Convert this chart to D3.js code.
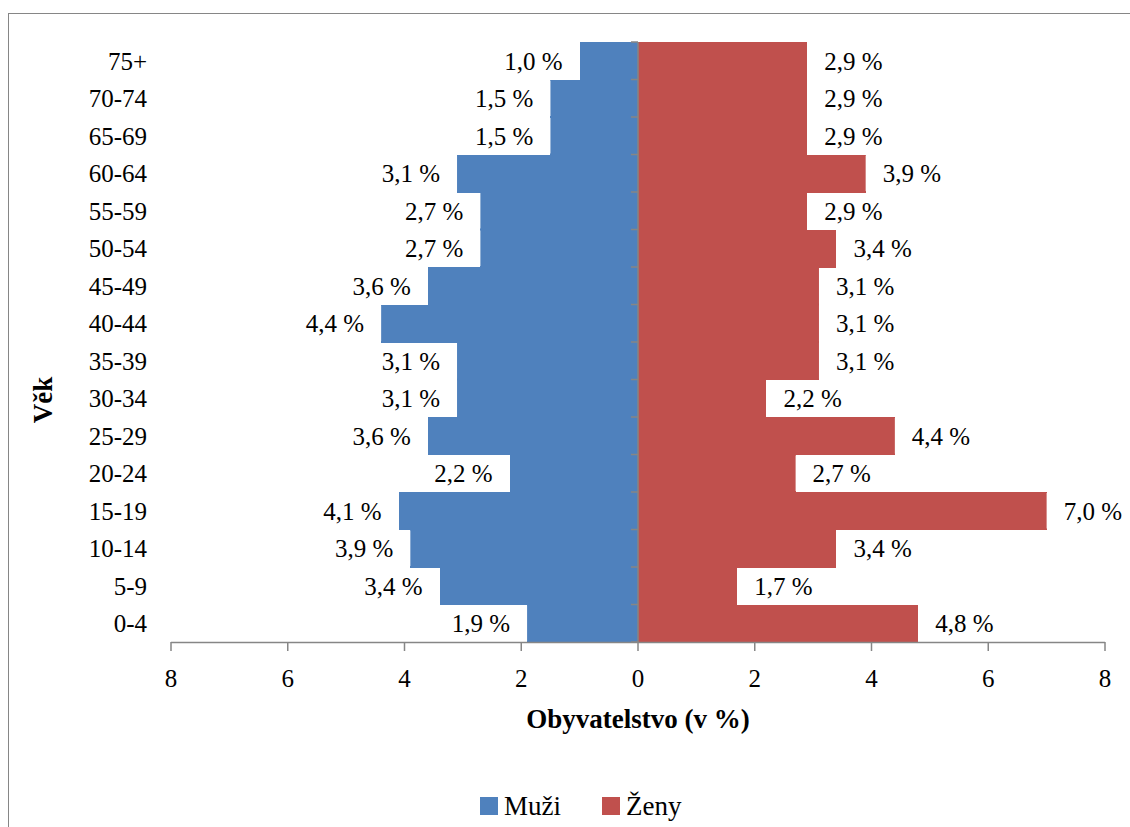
<!DOCTYPE html>
<html>
<head>
<meta charset="utf-8">
<script src="https://cdn.jsdelivr.net/npm/d3@7"></script>
<style>
  svg text { font-family: "Liberation Serif", Tinos, "Times New Roman", sans-serif !important; }
</style>
</head>
<body style="margin:0">
<script>
// age groups, bottom to top
const ageGroups = ["0-4", "5-9", "10-14", "15-19", "20-24", "25-29", "30-34", "35-39",
                   "40-44", "45-49", "50-54", "55-59", "60-64", "65-69", "70-74", "75+"];
const muzi = [1.9, 3.4, 3.9, 4.1, 2.2, 3.6, 3.1, 3.1, 4.4, 3.6, 2.7, 2.7, 3.1, 1.5, 1.5, 1.0];
const zeny = [4.8, 1.7, 3.4, 7.0, 2.7, 4.4, 2.2, 3.1, 3.1, 3.1, 3.4, 2.9, 3.9, 2.9, 2.9, 2.9];
const xTicks = [-8, -6, -4, -2, 0, 2, 4, 6, 8];
const seriesNames = ["Muži", "Ženy"];
const colors = ["#4F81BD", "#C0504D"];

const width = 1130, height = 827;
const FONT = '"Liberation Serif", Tinos, "Times New Roman", sans-serif';
const svg = d3.select("body").append("svg")
    .attr("width", width)
    .attr("height", height)
    .attr("font-family", FONT);

function txt(sel, size, bold) {
    sel.attr("font-family", FONT)
        .style("font-family", FONT)
        .style("font-size", size + "px")
        .attr("fill", "#000");
    if (bold) sel.style("font-weight", "bold");
    return sel;
}

// chart frame (only top and left edges visible)
svg.append("rect")
    .attr("x", 8.5).attr("y", 13.5)
    .attr("width", 1200).attr("height", 900)
    .attr("fill", "none")
    .attr("stroke", "#868686");

const x = d3.scaleLinear().domain([-8, 8]).range([171, 1105]);
const y = d3.scaleBand().domain(ageGroups.slice().reverse()).range([42, 642]).padding(0);

const rows = ageGroups.map((a, i) => ({ age: a, m: muzi[i], z: zeny[i] }));

// bars
svg.append("g").attr("shape-rendering", "crispEdges").selectAll("rect")
    .data(rows)
    .join("rect")
    .attr("x", d => x(-d.m))
    .attr("y", d => y(d.age))
    .attr("width", d => x(0) - x(-d.m))
    .attr("height", y.bandwidth() + 0.5)
    .attr("fill", colors[0]);

svg.append("g").attr("shape-rendering", "crispEdges").selectAll("rect")
    .data(rows)
    .join("rect")
    .attr("x", x(0))
    .attr("y", d => y(d.age))
    .attr("width", d => x(d.z) - x(0))
    .attr("height", y.bandwidth() + 0.5)
    .attr("fill", colors[1]);

// value labels with white boxes
const fmt = v => d3.format(".1f")(v).replace(".", ",") + " %";
const pad = 17;
const boxW = 58 + 2 * pad; // "x,x %" width at 25px
function addLabels(key, side) {
    const g = svg.append("g");
    const lab = g.selectAll("g")
        .data(rows)
        .join("g")
        .attr("transform", d => `translate(${side < 0 ? x(-d[key]) : x(d[key])},${y(d.age)})`);
    lab.append("rect")
        .attr("x", side < 0 ? -boxW : 0)
        .attr("y", 1)
        .attr("width", boxW)
        .attr("height", y.bandwidth() - 2)
        .attr("fill", "#fff");
    txt(lab.append("text"), 25)
        .attr("x", side * pad)
        .attr("y", y.bandwidth() / 2)
        .attr("dy", "0.35em")
        .attr("text-anchor", side < 0 ? "end" : "start")
        .text(d => fmt(d[key]));
}
addLabels("m", -1);
addLabels("z", 1);

// x axis
const axisColor = "#868686";
const xg = svg.append("g");
xg.append("line")
    .attr("x1", x(-8)).attr("x2", x(8))
    .attr("y1", 642.5).attr("y2", 642.5)
    .attr("stroke", axisColor).attr("stroke-width", 1.5);
xg.selectAll(".tick")
    .data(xTicks)
    .join("line")
    .attr("x1", d => x(d)).attr("x2", d => x(d))
    .attr("y1", 642).attr("y2", 651)
    .attr("stroke", axisColor).attr("stroke-width", 1.5);
txt(xg.selectAll("text")
    .data(xTicks)
    .join("text"), 25)
    .attr("x", d => x(d))
    .attr("y", 678)
    .attr("dy", "0.35em")
    .attr("text-anchor", "middle")
    .text(d => Math.abs(d));

// y axis at zero
const yg = svg.append("g");
yg.append("line")
    .attr("x1", x(0)).attr("x2", x(0))
    .attr("y1", 42).attr("y2", 642)
    .attr("stroke", axisColor).attr("stroke-width", 1.5);
const bounds = ageGroups.map(a => y(a)).concat([642]);
yg.selectAll(".tk")
    .data(bounds)
    .join("line")
    .attr("x1", x(0) - 7).attr("x2", x(0))
    .attr("y1", d => d).attr("y2", d => d)
    .attr("stroke", axisColor).attr("stroke-width", 1.5);

// category labels
txt(svg.append("g").selectAll("text")
    .data(ageGroups)
    .join("text"), 25)
    .attr("x", 147)
    .attr("y", d => y(d) + y.bandwidth() / 2)
    .attr("dy", "0.35em")
    .attr("text-anchor", "end")
    .text(d => d);

// axis titles
txt(svg.append("text"), 27, true)
    .attr("x", x(0))
    .attr("y", 719)
    .attr("dy", "0.35em")
    .attr("text-anchor", "middle")
    .text("Obyvatelstvo (v %)");

txt(svg.append("text"), 27, true)
    .attr("transform", "translate(43,400) rotate(-90)")
    .attr("dy", "0.35em")
    .attr("text-anchor", "middle")
    .text("Věk");

// legend
const legendX = [480, 602];
const lg = svg.append("g");
seriesNames.forEach((n, i) => {
    lg.append("rect")
        .attr("x", legendX[i]).attr("y", 797)
        .attr("width", 18).attr("height", 18)
        .attr("fill", colors[i]);
    txt(lg.append("text"), 27)
        .attr("x", legendX[i] + 24)
        .attr("y", 806)
        .attr("dy", "0.35em")
        .text(n);
});
</script>
</body>
</html>
